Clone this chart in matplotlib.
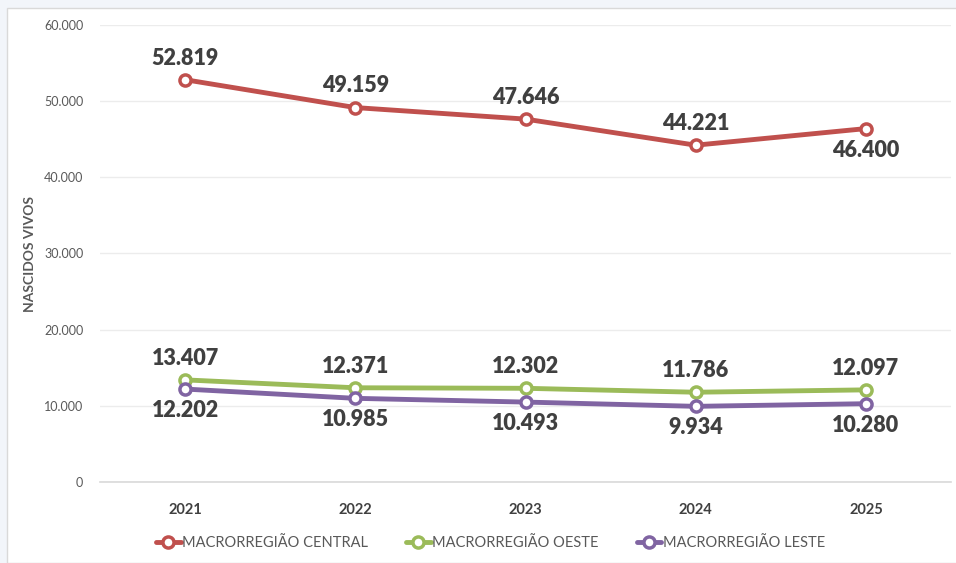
import matplotlib.pyplot as plt
from matplotlib.patches import Rectangle

plt.rcParams['font.family'] = ['Lato', 'DejaVu Sans']

anos = ['2021', '2022', '2023', '2024', '2025']
central = [52819, 49159, 47646, 44221, 46400]
oeste = [13407, 12371, 12302, 11786, 12097]
leste = [12202, 10985, 10493, 9934, 10280]

series = [
    ('MACRORREGIÃO CENTRAL', central, '#C0504D'),
    ('MACRORREGIÃO OESTE', oeste, '#9BBB59'),
    ('MACRORREGIÃO LESTE', leste, '#8064A2'),
]
# label above (+1) or below (-1) the point
offsets = {
    'MACRORREGIÃO CENTRAL': [1, 1, 1, 1, -1],
    'MACRORREGIÃO OESTE': [1, 1, 1, 1, 1],
    'MACRORREGIÃO LESTE': [-1, -1, -1, -1, -1],
}


def fmt(v):
    return f'{v:,}'.replace(',', '.')


fig = plt.figure(figsize=(9.56, 5.63), dpi=100, facecolor='#f2f5fa')
fig.patches.append(Rectangle((7 / 956, 0), 1, 1 - 8 / 563, transform=fig.transFigure,
                             facecolor='white', edgecolor='#d9d9d9', lw=1, zorder=-5))

ax = fig.add_axes([100 / 956, 1 - 482 / 563, 851 / 956, 457 / 563])
ax.set_zorder(2)
ax.set_facecolor('none')

x = list(range(len(anos)))
for nome, vals, cor in series:
    ax.plot(x, vals, color=cor, lw=3.5, marker='o', markersize=8,
            markerfacecolor='white', markeredgecolor=cor, markeredgewidth=2.5,
            label=nome, zorder=3, solid_capstyle='round')
    for xi, v, d in zip(x, vals, offsets[nome]):
        ax.annotate(fmt(v), (xi, v), xytext=(0, 8 * d), textcoords='offset points',
                    ha='center', va='bottom' if d > 0 else 'top',
                    fontsize=15.5, fontweight='heavy', color='#404040')

ax.set_xlim(-0.5, len(anos) - 0.5)
ax.set_ylim(0, 60000)
ax.set_yticks(range(0, 60001, 10000))
ax.set_yticklabels([fmt(v) for v in range(0, 60001, 10000)])
ax.set_xticks(x)
ax.set_xticklabels(anos, fontweight='bold')
ax.tick_params(axis='y', length=0, pad=12, labelsize=9, labelcolor='#595959')
ax.tick_params(axis='x', length=0, pad=15, labelsize=10.5, labelcolor='#404040')
ax.grid(axis='y', color='#ececec', lw=1)
ax.set_axisbelow(True)
for s in ['top', 'right', 'left']:
    ax.spines[s].set_visible(False)
ax.spines['bottom'].set_color('#d9d9d9')
ax.spines['bottom'].set_linewidth(1.2)

ax.set_ylabel('NASCIDOS VIVOS', fontsize=10, fontweight='bold', color='#595959', labelpad=6)

fig.legend(loc='center', bbox_to_anchor=(0.513, 1 - 543 / 563), ncol=3, frameon=False,
           fontsize=10.5, labelcolor='#595959', handlelength=1.7, handletextpad=0.1,
           columnspacing=2.6)

fig.savefig('out.png', dpi=100, facecolor=fig.get_facecolor())
